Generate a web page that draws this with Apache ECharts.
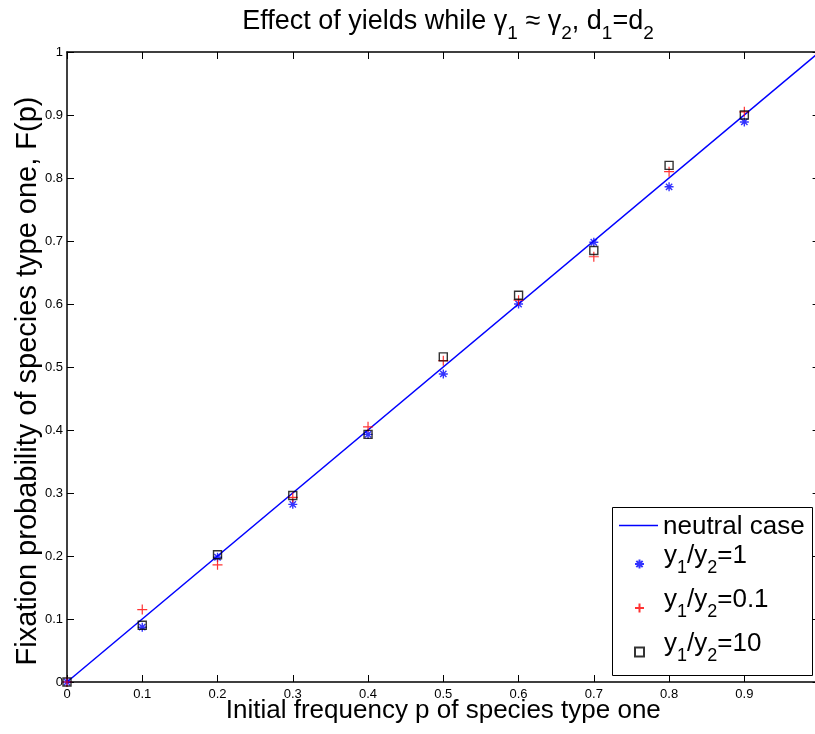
<!DOCTYPE html>
<html>
<head>
<meta charset="utf-8">
<script src="https://cdn.jsdelivr.net/npm/echarts@6/dist/echarts.min.js"></script>
<style>html,body{margin:0;padding:0;background:#fff;}#c{width:815px;height:734px;}</style>
</head>
<body>
<div id="c"></div>
<script>
const pValues = [0, 0.1, 0.2, 0.3, 0.4, 0.5, 0.6, 0.7, 0.8, 0.9];
const ratio1 = [0, 0.087, 0.198, 0.282, 0.393, 0.489, 0.600, 0.698, 0.786, 0.889];
const ratio01 = [0, 0.115, 0.186, 0.293, 0.405, 0.510, 0.606, 0.675, 0.810, 0.905];
const ratio10 = [0, 0.090, 0.202, 0.296, 0.393, 0.516, 0.614, 0.685, 0.820, 0.900];
const neutralX = [0, 1];
const neutralY = [0, 1];

const FONT = 'Liberation Sans, Arial, Helvetica, sans-serif';
const pair = (xs, ys) => xs.map((x, i) => [x, ys[i]]);

const starPath = 'path://M5,0 L5,10 M0,5 L10,5 M1.5,1.5 L8.5,8.5 M1.5,8.5 L8.5,1.5';
const plusPath = 'path://M5,0 L5,10 M0,5 L10,5';
const squarePath = 'path://M0,0 L10,0 L10,10 L0,10 Z';
const linePath = 'path://M0,0 L100,0 L100,4 L0,4 Z';

const chart = echarts.init(document.getElementById('c'), null, {renderer: 'canvas'});

const axisCommon = {
  min: 0, max: 1, interval: 0.1,
  axisLine: {show: true, onZero: false, lineStyle: {color: '#000', width: 1.5}},
  axisTick: {show: true, inside: true, length: 7, lineStyle: {color: '#000', width: 1}},
  splitLine: {show: false}
};

const legendFormatter = function (name) {
  if (name === 'neutral case') return '{n|neutral case}';
  const v = name.split('=')[1];
  return '{a|y}{s|1}{a|/y}{s|2}{a|=' + v + '}';
};
const legendText = {
  fontFamily: FONT,
  rich: {
    n: {fontFamily: FONT, fontSize: 26, lineHeight: 26, padding: [3, 0, 0, 0], color: '#000'},
    a: {fontFamily: FONT, fontSize: 26, lineHeight: 26, padding: [2, 0, 8, 0], verticalAlign: 'bottom', color: '#000'},
    s: {fontFamily: FONT, fontSize: 18, lineHeight: 18, verticalAlign: 'bottom', color: '#000'}
  }
};

chart.setOption({
  animation: false,
  backgroundColor: '#fff',
  title: {
    text: '{a|Effect of yields while γ}{s|1}{a| ≈ γ}{s|2}{a|, d}{s|1}{a|=d}{s|2}',
    left: 443, top: 11, textAlign: 'center',
    textStyle: {
      fontFamily: FONT, fontWeight: 'normal',
      rich: {
        a: {fontFamily: FONT, fontSize: 27, fontWeight: 'normal', lineHeight: 27, padding: [0, 0, 8, 0], verticalAlign: 'bottom', color: '#000'},
        s: {fontFamily: FONT, fontSize: 19, fontWeight: 'normal', lineHeight: 19, verticalAlign: 'bottom', color: '#000'}
      }
    }
  },
  grid: {left: 67, top: 52, width: 752.6, height: 630, containLabel: false, outerBoundsMode: 'none'},
  graphic: [{
    type: 'rect', left: 612, top: 507, z: 50,
    shape: {width: 200, height: 168},
    style: {fill: '#fff', stroke: '#000', lineWidth: 1}
  }],
  legend: [
    {
      orient: 'vertical', left: 619, top: 511, padding: 0,
      itemWidth: 39, itemHeight: 9, z: 60,
      data: [{name: 'neutral case', icon: linePath}],
      formatter: legendFormatter, textStyle: legendText
    },
    {
      orient: 'vertical', left: 634, top: 541, padding: 0, itemGap: 8,
      itemWidth: 39, itemHeight: 9, z: 60,
      data: [{name: 'y1/y2=1'}, {name: 'y1/y2=0.1'}, {name: 'y1/y2=10', icon: squarePath}],
      formatter: legendFormatter, textStyle: legendText
    }
  ],
  xAxis: [
    Object.assign({}, axisCommon, {
      type: 'value', position: 'bottom',
      name: 'Initial frequency p of species type one',
      nameLocation: 'middle', nameGap: 16, nameMoveOverlap: false,
      nameTextStyle: {fontFamily: FONT, fontSize: 26, color: '#000', verticalAlign: 'top'},
      axisLabel: {show: true, fontFamily: FONT, fontSize: 13, color: '#000', margin: 6,
        formatter: v => (v >= 0.999 ? '' : String(+v.toFixed(1)))}
    }),
    Object.assign({}, axisCommon, {
      type: 'value', position: 'top', axisLabel: {show: false}
    })
  ],
  yAxis: [
    Object.assign({}, axisCommon, {
      type: 'value', position: 'left',
      name: 'Fixation probability of species type one, F(p)',
      nameLocation: 'middle', nameGap: 25, nameRotate: 90, nameMoveOverlap: false,
      nameTextStyle: {fontFamily: FONT, fontSize: 29, color: '#000', verticalAlign: 'bottom', padding: [0, 28, 0, 0]},
      axisLabel: {show: true, fontFamily: FONT, fontSize: 13, color: '#000', margin: 4,
        formatter: v => String(+v.toFixed(1))}
    }),
    Object.assign({}, axisCommon, {
      type: 'value', position: 'right', axisLabel: {show: false}
    })
  ],
  series: [
    {
      name: 'neutral case', type: 'line',
      data: pair(neutralX, neutralY),
      symbol: 'none', showSymbol: false,
      lineStyle: {color: '#0000ff', width: 1.5},
      itemStyle: {color: '#0000ff'},
      z: 2
    },
    {
      name: 'y1/y2=1', type: 'scatter',
      data: pair(pValues, ratio1),
      symbol: starPath, symbolSize: 9,
      itemStyle: {color: 'rgba(0,0,0,0)', borderColor: '#0000ff', borderWidth: 1.4},
      z: 3
    },
    {
      name: 'y1/y2=0.1', type: 'scatter',
      data: pair(pValues, ratio01),
      symbol: plusPath, symbolSize: 10,
      itemStyle: {color: 'rgba(0,0,0,0)', borderColor: '#ff0000', borderWidth: 1.2},
      z: 4
    },
    {
      name: 'y1/y2=10', type: 'scatter',
      data: pair(pValues, ratio10),
      symbol: squarePath, symbolSize: 8,
      itemStyle: {color: 'rgba(0,0,0,0)', borderColor: '#000', borderWidth: 1.4},
      z: 5
    }
  ]
});
</script>
</body>
</html>
